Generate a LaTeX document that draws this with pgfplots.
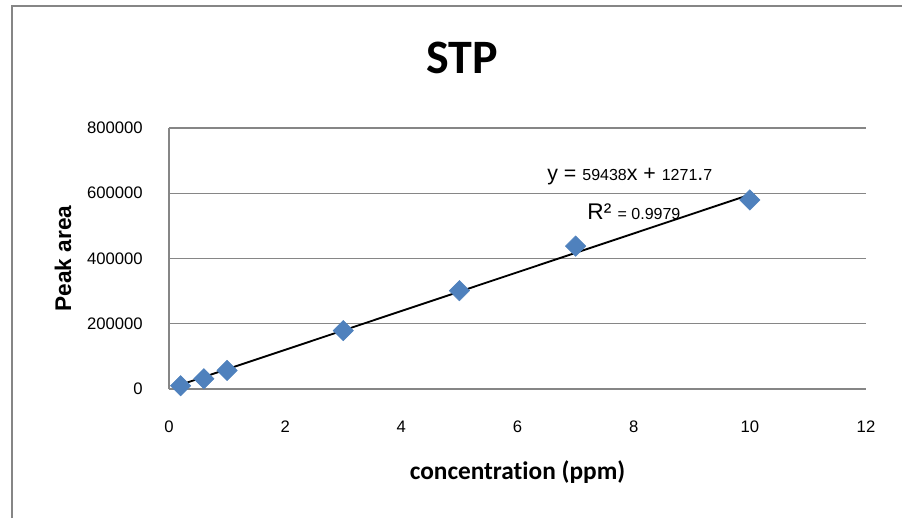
\documentclass[border=0pt]{standalone}
\usepackage{fontspec}
\setmainfont{Liberation Sans}
\newfontfamily\carlito[Ligatures=NoCommon]{Carlito}
\usepackage{pgfplots}
\pgfplotsset{compat=1.18}
\definecolor{gridgray}{HTML}{868686}
\definecolor{xlblue}{HTML}{4F81BD}
\begin{document}
\begin{tikzpicture}
\begin{axis}[
  at={(126.75pt,96.75pt)}, anchor=south west,
  scale only axis, width=522.75pt, height=195.75pt,
  xmin=0, xmax=12, ymin=0, ymax=800000,
  xtick={0,2,...,12}, ytick={0,200000,...,800000},
  scaled y ticks=false,
  /pgf/number format/assume math mode=true,
  /pgf/number format/fixed, /pgf/number format/1000 sep={},
  tick label style={font=\fontsize{12.5}{14}\selectfont},
  xticklabel style={anchor=center, yshift=-28.5pt},
  yticklabel style={anchor=east, inner sep=0pt, xshift=-19.5pt},
  major tick length=0pt,
  axis x line*=bottom, axis y line*=left,
  axis line style={gridgray, line width=1pt, -},
  ymajorgrids, grid style={gridgray, line width=1pt},
  xlabel={concentration (ppm)},
  xlabel style={font=\carlito\bfseries\fontsize{19}{22}\selectfont, at={(axis description cs:0.5,0)}, anchor=center, yshift=-62pt},
  ylabel={Peak area},
  ylabel style={font=\bfseries\fontsize{17}{20}\selectfont, at={(axis description cs:-0.152,0.5)}, anchor=center},
  clip=false,
]
\addplot[only marks, mark=square*, mark size=5.4pt, mark options={rotate=45, fill=xlblue, draw=xlblue}]
  coordinates {(0.2,10000) (0.6,31500) (1,57000) (3,179000) (5,301500) (7,438000) (10,579500)};
\addplot[black, line width=1.4pt] coordinates {(0.2,13159) (10,595652)};
\node[anchor=base west, inner sep=0pt] at (axis cs:6.51,637800)
  {\fontsize{16}{18}\selectfont y = \fontsize{12}{14}\selectfont 59438\fontsize{16}{18}\selectfont x + \fontsize{12}{14}\selectfont 1271\fontsize{16}{18}\selectfont .\fontsize{12}{14}\selectfont 7};
\node[anchor=base west, inner sep=0pt] at (axis cs:7.2,520900)
  {\fontsize{17}{18}\selectfont R² \fontsize{12}{14}\selectfont = 0.9979};
\end{axis}
\node[font=\carlito\bfseries\fontsize{36}{40}\selectfont] at (346.5pt,345.4pt) {STP};
\draw[gridgray, line width=1.5pt] (9pt,0) -- (9pt,384pt) -- (680pt,384pt);
\pgfresetboundingbox
\path[use as bounding box] (0,0) rectangle (676.5pt,388.5pt);
\end{tikzpicture}
\end{document}
